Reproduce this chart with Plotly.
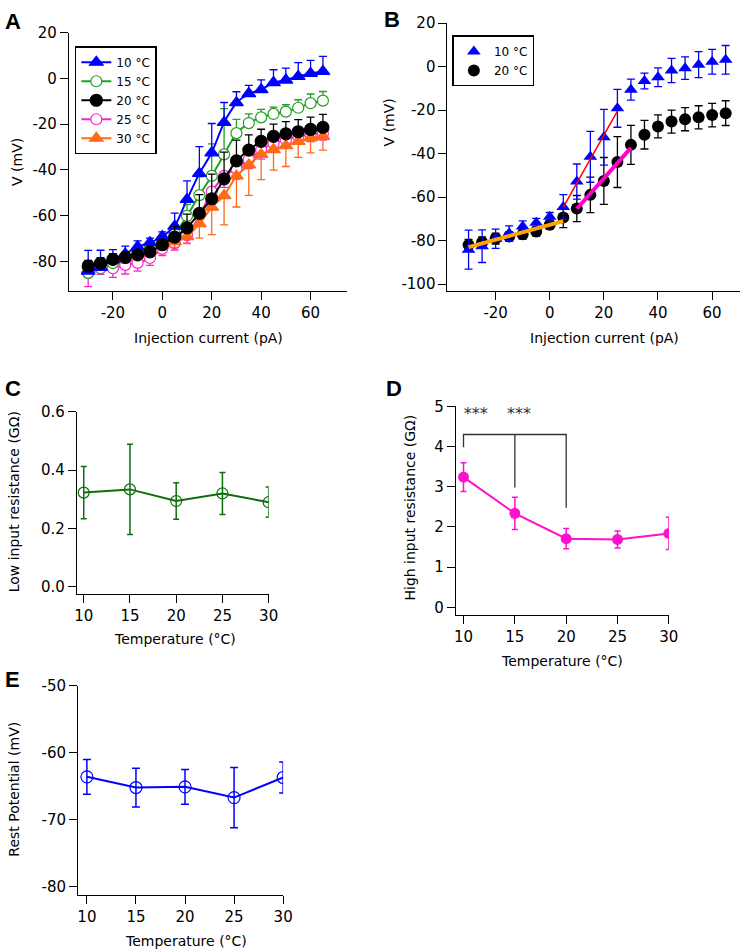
import plotly.graph_objects as go

# ---------------- data ----------------
current = [-30, -25, -20, -15, -10, -5, 0, 5, 10, 15, 20, 25, 30, 35, 40, 45, 50, 55, 60, 65]

v10 = [-84.2, -82.6, -79.2, -76.7, -73.6, -71.8, -69.1, -64.6, -52.9, -41.5,
       -32.5, -19.2, -10.6, -6.6, -4.9, -1.8, -0.7, 0.9, 2.2, 3.1]
e10 = [9.0, 7.5, 4.4, 3.4, 2.6, 2.0, 2.0, 5.7, 8.1, 11.7,
       12.8, 8.7, 4.8, 3.6, 4.3, 5.6, 5.2, 6.0, 5.7, 6.6]

v15 = [-85.0, -83.0, -80.7, -78.6, -76.4, -74.2, -71.4, -67.8, -60.1, -51.0,
       -42.6, -33.2, -23.9, -19.5, -17.0, -15.5, -14.5, -12.8, -10.8, -9.7]
e15 = [2.5, 2.5, 2.5, 2.5, 2.5, 2.5, 2.5, 3.0, 5.0, 8.0,
       14.0, 20.0, 6.0, 4.0, 3.5, 3.0, 3.0, 3.5, 4.0, 4.0]

v20 = [-82.0, -80.8, -79.1, -78.2, -77.1, -75.8, -72.7, -69.4, -65.3, -59.0,
       -52.6, -43.9, -36.0, -31.3, -27.5, -25.3, -24.2, -23.3, -22.3, -21.4]
e20 = [2.5, 2.5, 2.5, 2.2, 2.2, 2.2, 2.0, 4.7, 6.0, 8.2,
       10.8, 11.7, 9.0, 6.6, 5.3, 5.3, 5.3, 5.3, 5.4, 5.7]

v25 = [-85.0, -82.0, -83.0, -81.5, -80.6, -78.5, -74.5, -72.0, -68.5, -60.0,
       -49.5, -42.6, -39.5, -35.4, -31.3, -28.4, -26.8, -25.3, -24.6, -23.9]
e25 = [6.0, 3.6, 4.0, 4.0, 3.6, 3.2, 2.9, 3.0, 3.5, 4.0,
       5.0, 5.0, 4.5, 4.0, 4.0, 3.5, 3.5, 3.0, 3.0, 3.0]

v30 = [-83.6, -81.4, -80.0, -78.6, -77.1, -75.4, -72.8, -71.4, -69.2, -63.5,
       -56.3, -51.2, -42.6, -37.8, -33.2, -31.1, -29.4, -27.5, -26.0, -25.3]
e30 = [2.0, 2.0, 2.0, 2.0, 2.0, 2.0, 2.0, 2.5, 3.0, 6.3,
       12.0, 12.8, 13.6, 13.3, 11.0, 9.0, 9.1, 7.0, 6.5, 6.0]

# linear fits in panel B
fit_low_x = [-30, 5]
fit_low_y = [-83.0, -71.1]
fit10_x = [5, 25]
fit10_y = [-64.6, -20.5]
fit20_x = [10, 30]
fit20_y = [-65.4, -37.4]

temps = [10, 15, 20, 25, 30]
low_r = [0.323, 0.334, 0.294, 0.320, 0.290]
low_err = [0.090, 0.155, 0.063, 0.072, 0.052]
high_r = [3.24, 2.34, 1.71, 1.69, 1.84]
high_err = [0.36, 0.40, 0.25, 0.21, 0.40]
rest = [-63.6, -65.2, -65.1, -66.7, -63.7]
rest_err = [2.6, 2.9, 2.6, 4.5, 2.3]

# significance bracket (panel D)
bracket_x = [10, 10, 20, 20]
bracket_y = [3.98, 4.30, 4.30, 2.48]
bracket_mid_x = [15, 15]
bracket_mid_y = [4.30, 2.98]
star_x = [11.2, 15.4]
star_y = [4.78, 4.78]

# tick labels
a_yticks = [-80, -60, -40, -20, 0, 20]
a_yticktext = ["-80", "-60", "-40", "-20", "0", "20"]
b_yticks = [-100, -80, -60, -40, -20, 0, 20]
b_yticktext = ["-100", "-80", "-60", "-40", "-20", "0", "20"]
i_xticks = [-20, 0, 20, 40, 60]
i_xticktext = ["-20", "0", "20", "40", "60"]
c_yticks = [0.0, 0.2, 0.4, 0.6]
c_yticktext = ["0.0", "0.2", "0.4", "0.6"]
d_yticks = [0, 1, 2, 3, 4, 5]
e_yticks = [-80, -70, -60, -50]
e_yticktext = ["-80", "-70", "-60", "-50"]
t_xticks = [10, 15, 20, 25, 30]

# ---------------- figure ----------------
W, H = 750, 952
FONT = "DejaVu Sans"
BLUE = "#0000FF"
GREEN = "#22A022"
BLACK = "#000000"
MAGENTA = "#FF22CC"
ORANGE = "#FF6A1A"
DKGREEN = "#0B6E0B"
PINK = "#FF10CC"


def xd(a, b):
    return [a / W, b / W]


def yd(top, bottom):
    return [1 - bottom / H, 1 - top / H]


zeros = [0] * len(current)
fig = go.Figure()


def a_trace(y, err, up, color, symbol, name, rank, filled=True, size=11):
    ey = dict(type="data", symmetric=False, array=err if up else zeros,
              arrayminus=zeros if up else err, color=color, thickness=1.3, width=4)
    mk = dict(symbol=symbol, size=size, color=color if filled else "white",
              line=dict(color=color, width=1.2))
    return go.Scatter(x=current, y=y, mode="lines+markers", name=name,
                      line=dict(color=color, width=2, shape="spline", smoothing=0.5),
                      marker=mk, error_y=ey, legendrank=rank, xaxis="x", yaxis="y",
                      legend="legend")


# Panel A (draw order)
fig.add_trace(a_trace(v25, e25, False, MAGENTA, "circle", "25 °C", 4, filled=False, size=11))
fig.add_trace(a_trace(v30, e30, False, ORANGE, "triangle-up", "30 °C", 5, size=12))
fig.add_trace(a_trace(v15, e15, True, GREEN, "circle", "15 °C", 2, filled=False, size=11))
fig.add_trace(a_trace(v10, e10, True, BLUE, "triangle-up", "10 °C", 1, size=12))
fig.add_trace(a_trace(v20, e20, True, BLACK, "circle", "20 °C", 3, size=12))

# Panel B
fig.add_trace(go.Scatter(x=current, y=v20, mode="markers", name="20 °C",
                         marker=dict(symbol="circle", size=12, color=BLACK),
                         error_y=dict(type="data", array=e20, color=BLACK, thickness=1.3, width=4),
                         xaxis="x2", yaxis="y2", legend="legend2", legendrank=2))
fig.add_trace(go.Scatter(x=current, y=v10, mode="markers", name="10 °C",
                         marker=dict(symbol="triangle-up", size=12, color=BLUE),
                         error_y=dict(type="data", array=e10, color=BLUE, thickness=1.3, width=4),
                         xaxis="x2", yaxis="y2", legend="legend2", legendrank=1))
fig.add_trace(go.Scatter(x=fit_low_x, y=fit_low_y, mode="lines", line=dict(color="#FFA500", width=4),
                         showlegend=False, xaxis="x2", yaxis="y2"))
fig.add_trace(go.Scatter(x=fit10_x, y=fit10_y, mode="lines", line=dict(color="#FF0000", width=1.5),
                         showlegend=False, xaxis="x2", yaxis="y2"))
fig.add_trace(go.Scatter(x=fit20_x, y=fit20_y, mode="lines", line=dict(color="#FF00CC", width=4),
                         showlegend=False, xaxis="x2", yaxis="y2"))

# Panel C
fig.add_trace(go.Scatter(x=temps, y=low_r, mode="lines+markers", showlegend=False,
                         line=dict(color=DKGREEN, width=2),
                         marker=dict(symbol="circle-open", size=11, color=DKGREEN, line=dict(width=1.2)),
                         error_y=dict(type="data", array=low_err, color=DKGREEN, thickness=1.5, width=3),
                         xaxis="x3", yaxis="y3"))

# Panel D
fig.add_trace(go.Scatter(x=bracket_x, y=bracket_y, mode="lines", showlegend=False,
                         line=dict(color="#333333", width=1.3), xaxis="x4", yaxis="y4"))
fig.add_trace(go.Scatter(x=bracket_mid_x, y=bracket_mid_y, mode="lines", showlegend=False,
                         line=dict(color="#333333", width=1.3), xaxis="x4", yaxis="y4"))
fig.add_trace(go.Scatter(x=temps, y=high_r, mode="lines+markers", showlegend=False,
                         line=dict(color=PINK, width=2),
                         marker=dict(symbol="circle", size=11, color=PINK),
                         error_y=dict(type="data", array=high_err, color=PINK, thickness=1.5, width=3),
                         xaxis="x4", yaxis="y4"))
fig.add_trace(go.Scatter(x=star_x, y=star_y, mode="text", text=["***", "***"], showlegend=False,
                         textfont=dict(family=FONT, size=16, color="#333333"),
                         xaxis="x4", yaxis="y4"))

# Panel E
fig.add_trace(go.Scatter(x=temps, y=rest, mode="lines+markers", showlegend=False,
                         line=dict(color=BLUE, width=2),
                         marker=dict(symbol="circle-open", size=12, color=BLUE, line=dict(width=1.2)),
                         error_y=dict(type="data", array=rest_err, color=BLUE, thickness=1.5, width=4),
                         xaxis="x5", yaxis="y5"))


def ax(**kw):
    base = dict(showline=True, linecolor="black", linewidth=1, ticks="outside", ticklen=8,
                tickwidth=1, tickcolor="black", showgrid=False, zeroline=False,
                tickfont=dict(family=FONT, size=15, color="black"))
    base.update(kw)
    return base


fig.update_layout(
    width=W, height=H, margin=dict(l=0, r=0, t=0, b=0),
    paper_bgcolor="white", plot_bgcolor="white",
    font=dict(family=FONT, color="black"),
    xaxis=ax(domain=xd(68, 351), range=[-37.8, 74.9], tickvals=i_xticks, ticktext=i_xticktext, anchor="y"),
    yaxis=ax(domain=yd(24, 285.7), range=[-93.1, 20], tickvals=a_yticks, ticktext=a_yticktext, anchor="x"),
    xaxis2=ax(domain=xd(452.7, 750), range=[-37.8, 70.3], tickvals=i_xticks, ticktext=i_xticktext, anchor="y2"),
    yaxis2=ax(domain=yd(14.3, 285.7), range=[-103.4, 20], tickvals=b_yticks, ticktext=b_yticktext, anchor="x2"),
    xaxis3=ax(domain=xd(76, 271), range=[9.25, 30], tickvals=t_xticks, anchor="y3"),
    yaxis3=ax(domain=yd(407.7, 591.7), range=[-0.025, 0.6], tickvals=c_yticks, ticktext=c_yticktext, anchor="x3"),
    xaxis4=ax(domain=xd(461.3, 677.7), range=[9.26, 30], tickvals=t_xticks, anchor="y4"),
    yaxis4=ax(domain=yd(402, 612.7), range=[-0.18, 5], tickvals=d_yticks, anchor="x4"),
    xaxis5=ax(domain=xd(77.3, 285.7), range=[9.1, 30], tickvals=t_xticks, anchor="y5"),
    yaxis5=ax(domain=yd(684.7, 896), range=[-81.2, -50], tickvals=e_yticks, ticktext=e_yticktext, anchor="x5"),
    legend=dict(x=74 / W, y=1 - 37.7 / H, xanchor="left", yanchor="top", bgcolor="white",
                bordercolor="black", borderwidth=1.5, font=dict(family=FONT, size=12),
                itemwidth=30, tracegroupgap=0),
    legend2=dict(x=457.7 / W, y=1 - 26.7 / H, xanchor="left", yanchor="top", bgcolor="white",
                 bordercolor="black", borderwidth=1.5, font=dict(family=FONT, size=12),
                 itemwidth=30, tracegroupgap=0),
)

annots = []
TF = dict(family=FONT, size=14, color="black")
LF = dict(family="Liberation Sans", size=22, color="black")


def pa(text, x, y, font, angle=0):
    annots.append(dict(text=text, x=x / W, y=1 - y / H, xref="paper", yref="paper",
                       xanchor="center", yanchor="middle", showarrow=False, font=font,
                       textangle=angle))


# panel letters
pa("<b>A</b>", 11, 12.5, LF)
pa("<b>B</b>", 396.5, 11, LF)
pa("<b>C</b>", 11, 384, LF)
pa("<b>D</b>", 398, 384, LF)
pa("<b>E</b>", 10.5, 678, LF)
# axis titles
pa("Injection current (pA)", 209.5, 333, TF)
pa("V (mV)", 15, 155, TF, -90)
pa("Injection current (pA)", 612, 333, TF)
pa("V (mV)", 393, 115, TF, -90)
pa("Low input resistance (GΩ)", 12.3, 499, TF, -90)
pa("Temperature (°C)", 176, 637, TF)
pa("High input resistance (GΩ)", 415, 504, TF, -90)
pa("Temperature (°C)", 569.5, 660, TF)
pa("Rest Potential (mV)", 12, 789, TF, -90)
pa("Temperature (°C)", 187, 943, TF)

fig.update_layout(annotations=annots)
fig.write_html(
    "out.html",
    config={"displayModeBar": False},
    post_script="document.body.style.margin='0';document.body.style.padding='0';"
                "document.documentElement.style.overflow='hidden';document.body.style.overflow='hidden';",
)
